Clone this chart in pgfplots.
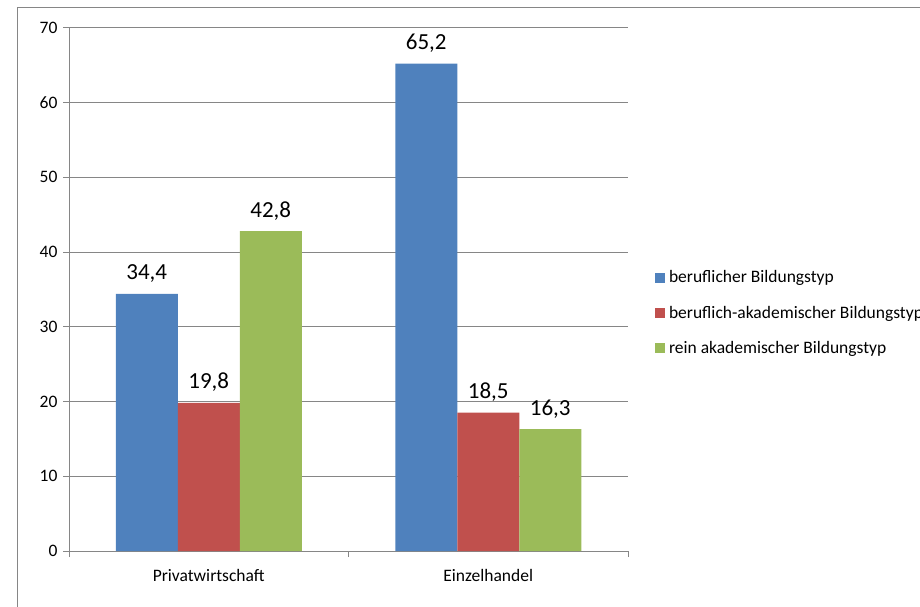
\documentclass[border=0pt]{standalone}
\usepackage{pgfplots}
\pgfplotsset{compat=1.18}
\usepackage{fontspec}
\setmainfont{Carlito}
\definecolor{cblue}{RGB}{79,129,189}
\definecolor{cred}{RGB}{192,80,77}
\definecolor{cgreen}{RGB}{155,187,89}
\definecolor{gridc}{RGB}{134,134,134}
\begin{document}
\begin{tikzpicture}[x=1pt,y=1pt]
\useasboundingbox (0,0) rectangle (920,606);
\draw[gridc, line width=0.8pt] (17,599) rectangle (960,-30);
\begin{axis}[
  at={(69pt,55pt)}, anchor=south west,
  scale only axis, width=559pt, height=523.3pt,
  xmin=-0.5, xmax=1.5, ymin=0, ymax=70,
  ybar=0pt, bar width=62pt,
  axis x line*=bottom, axis y line*=left,
  axis line style={gridc, line width=0.8pt, -},
  ymajorgrids, grid style={gridc, line width=0.8pt},
  ytick={0,10,...,70},
  xtick={-0.5,0.5,1.5}, xticklabels={},
  extra x ticks={0,1},
  extra x tick labels={Privatwirtschaft,Einzelhandel},
  extra x tick style={major tick length=0pt, grid=none,
    xticklabel style={yshift=-15pt}},
  tick align=outside, major tick length=6pt,
  tick style={gridc, line width=0.8pt},
  /pgf/number format/assume math mode=true,
  ticklabel style={font=\fontsize{17.5}{21}\selectfont, text=black},
  yticklabel style={xshift=-2pt},
  nodes near coords={\pgfmathprintnumber[use comma,fixed,fixed zerofill,precision=1,assume math mode=true]{\pgfplotspointmeta}},
  nodes near coords style={font=\fontsize{23}{27}\selectfont, anchor=base, inner sep=0pt, yshift=14pt, text=black},
  legend image code/.code={\fill[#1] (0pt,-5pt) rectangle (10pt,5pt);},
  legend cell align=left,
  legend style={at={(1.048,0.455)}, anchor=west, draw=none, fill=none,
    font=\fontsize{17.5}{21}\selectfont, inner sep=0pt,
    nodes={inner sep=1pt}, row sep=19.7pt,
    /tikz/every odd column/.append style={column sep=3pt}},
]
\addplot[fill=cblue, draw=none] coordinates {(0,34.4) (1,65.2)};
\addplot[fill=cred, draw=none] coordinates {(0,19.8) (1,18.5)};
\addplot[fill=cgreen, draw=none] coordinates {(0,42.8) (1,16.3)};
\legend{beruflicher Bildungstyp, beruflich-akademischer Bildungstyp, rein akademischer Bildungstyp}
\end{axis}
\end{tikzpicture}
\end{document}
